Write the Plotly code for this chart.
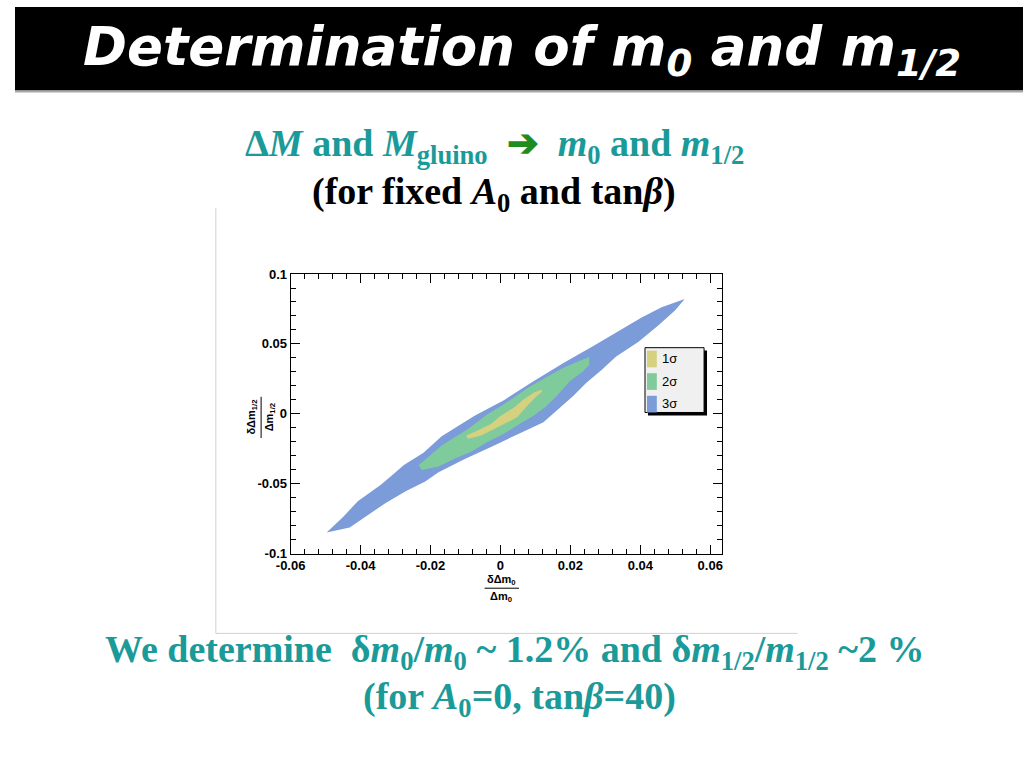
import plotly.graph_objects as go

# ---------------- data ----------------
x_tick_vals = [-0.06, -0.04, -0.02, 0.0, 0.02, 0.04, 0.06]
x_tick_labels = ["-0.06", "-0.04", "-0.02", "0", "0.02", "0.04", "0.06"]
y_tick_vals = [-0.1, -0.05, 0.0, 0.05, 0.1]
y_tick_labels = ["-0.1", "-0.05", "0", "0.05", "0.1"]

# 3 sigma region (blue) : upper and lower boundary
sigma3_upper_x = [-0.0497, -0.0450, -0.0408, -0.0342, -0.0314, -0.0276, -0.0220, -0.0168,
                  -0.0074, 0.0010, 0.0090, 0.0179, 0.0268, 0.0405, 0.0461, 0.0527]
sigma3_upper_y = [-0.0852, -0.0741, -0.0628, -0.0510, -0.0451, -0.0369, -0.0280, -0.0162,
                  -0.0015, 0.0096, 0.0225, 0.0360, 0.0488, 0.0691, 0.0762, 0.0821]
sigma3_lower_x = [-0.0431, -0.0384, -0.0328, -0.0271, -0.0215, -0.0177, -0.0102, -0.0027,
                  0.0039, 0.0123, 0.0170, 0.0208, 0.0245, 0.0290, 0.0330, 0.0395, 0.0452, 0.0499]
sigma3_lower_y = [-0.0816, -0.0734, -0.0640, -0.0557, -0.0486, -0.0420, -0.0325, -0.0240,
                  -0.0160, -0.0062, 0.0040, 0.0126, 0.0220, 0.0314, 0.0408, 0.0514, 0.0633, 0.0739]

# 2 sigma region (green)
sigma2_upper_x = [-0.0234, -0.0168, -0.0093, -0.0037, 0.0010, 0.0085, 0.0179, 0.0254]
sigma2_upper_y = [-0.0370, -0.0228, -0.0110, -0.0004, 0.0067, 0.0196, 0.0327, 0.0408]
sigma2_lower_x = [-0.0225, -0.0177, -0.0130, -0.0084, -0.0037, 0.0010, 0.0048, 0.0095,
                  0.0132, 0.0161, 0.0198, 0.0236, 0.0254]
sigma2_lower_y = [-0.0404, -0.0380, -0.0322, -0.0274, -0.0204, -0.0145, -0.0086, -0.0016,
                  0.0055, 0.0126, 0.0232, 0.0302, 0.0350]

# 1 sigma region (yellow)
sigma1_upper_x = [-0.0098, -0.0065, -0.0027, 0.0001, 0.0039, 0.0067, 0.0095, 0.0118]
sigma1_upper_y = [-0.0157, -0.0122, -0.0074, -0.0016, 0.0044, 0.0102, 0.0150, 0.0173]
sigma1_lower_x = [-0.0093, -0.0055, -0.0018, 0.0020, 0.0048, 0.0076, 0.0104, 0.0118]
sigma1_lower_y = [-0.0180, -0.0157, -0.0110, -0.0062, -0.0027, 0.0055, 0.0126, 0.0154]

region_names = ["3σ", "2σ", "1σ"]
region_colors = ["#7b9bd9", "#7fcb9c", "#d6d17f"]

# ---------------- figure ----------------
W, H = 1024, 768


def px(x):
    return x / W


def py(y):
    return 1 - y / H


fig = go.Figure()
regions = [
    (sigma3_upper_x, sigma3_upper_y, sigma3_lower_x, sigma3_lower_y),
    (sigma2_upper_x, sigma2_upper_y, sigma2_lower_x, sigma2_lower_y),
    (sigma1_upper_x, sigma1_upper_y, sigma1_lower_x, sigma1_lower_y),
]
for (ux, uy, lx, ly), name, col in zip(regions, region_names, region_colors):
    fig.add_trace(go.Scatter(
        x=list(ux) + list(lx)[::-1], y=list(uy) + list(ly)[::-1],
        mode="lines", fill="toself", fillcolor=col,
        line=dict(width=0, color=col), name=name, showlegend=False,
        hoverinfo="skip",
    ))

tickfont = dict(family="Liberation Sans, Arial", size=13, color="black", weight="bold")
fig.update_xaxes(
    domain=[px(280), px(718)], range=[-0.06, 0.0633],
    tickvals=x_tick_vals, ticktext=x_tick_labels, tickfont=tickfont,
    ticks="inside", ticklen=9, tickwidth=1, tickcolor="black",
    showline=True, linecolor="black", linewidth=1, mirror="allticks",
    showgrid=False, zeroline=False,
    minor=dict(dtick=0.004, tick0=-0.06, ticks="inside", ticklen=5, tickcolor="black", showgrid=False),
    anchor="y",
)
fig.update_yaxes(
    domain=[py(557), py(272)], range=[-0.1005, 0.1],
    tickvals=y_tick_vals, ticktext=y_tick_labels, tickfont=tickfont,
    ticks="inside", ticklen=9, tickwidth=1, tickcolor="black",
    showline=True, linecolor="black", linewidth=1, mirror="allticks",
    showgrid=False, zeroline=False,
    minor=dict(dtick=0.01, tick0=-0.1, ticks="inside", ticklen=5, tickcolor="black", showgrid=False),
    anchor="x",
)

shapes = []
annotations = []

# black title bar
shapes.append(dict(type="rect", xref="paper", yref="paper", x0=0, x1=1, y0=py(85), y1=1,
                   fillcolor="black", line=dict(width=0), layer="below"))
shapes.append(dict(type="line", xref="paper", yref="paper", x0=0, x1=1, y0=py(86), y1=py(86),
                   line=dict(color="#a8a8a8", width=2)))
annotations.append(dict(
    text="<b><i>Determination of m<sub>0</sub> and m<sub>1/2</sub></i></b>",
    x=px(515), y=py(44), xref="paper", yref="paper", showarrow=False,
    font=dict(family="DejaVu Sans", size=53, color="white"),
    xanchor="center", yanchor="middle"))

teal = "#1b9a9a"
green = "#1f8c1f"
annotations.append(dict(
    text=("<b>Δ<i>M</i> and <i>M</i><sub>gluino</sub>  "
          "<span style='color:%s'>➔</span>  <i>m</i><sub>0</sub> and <i>m</i><sub>1/2</sub></b>") % green,
    x=px(487), y=py(142), xref="paper", yref="paper", showarrow=False,
    font=dict(family="Liberation Serif", size=38, color=teal), xanchor="center", yanchor="middle"))
annotations.append(dict(
    text="<b>(for fixed <i>A</i><sub>0</sub> and tan<i>β</i>)</b>",
    x=px(487), y=py(190), xref="paper", yref="paper", showarrow=False,
    font=dict(family="Liberation Serif", size=38, color="black"), xanchor="center", yanchor="middle"))

# image frame lines of the embedded picture
shapes.append(dict(type="line", xref="paper", yref="paper", x0=px(204), x1=px(204), y0=py(205), y1=py(638),
                   line=dict(color="#d0d0d0", width=1)))
shapes.append(dict(type="line", xref="paper", yref="paper", x0=px(204), x1=px(795), y0=py(638), y1=py(638),
                   line=dict(color="#d0d0d0", width=1)))

# axis titles (fractions)
axfont = dict(family="Liberation Sans, Arial", size=11, color="black", weight="bold")
annotations.append(dict(text="δΔm<sub>0</sub>", x=px(494), y=py(584), xref="paper", yref="paper",
                        showarrow=False, font=axfont, xanchor="center", yanchor="middle"))
shapes.append(dict(type="line", xref="paper", yref="paper", x0=px(477), x1=px(512), y0=py(592), y1=py(592),
                   line=dict(color="black", width=1)))
annotations.append(dict(text="Δm<sub>0</sub>", x=px(494), y=py(601), xref="paper", yref="paper",
                        showarrow=False, font=axfont, xanchor="center", yanchor="middle"))

annotations.append(dict(text="δΔm<sub>1/2</sub>", x=px(241), y=py(418), xref="paper", yref="paper",
                        showarrow=False, font=axfont, xanchor="center", yanchor="middle", textangle=-90))
shapes.append(dict(type="line", xref="paper", yref="paper", x0=px(250), x1=px(250), y0=py(397), y1=py(439),
                   line=dict(color="black", width=1)))
annotations.append(dict(text="Δm<sub>1/2</sub>", x=px(259), y=py(418), xref="paper", yref="paper",
                        showarrow=False, font=axfont, xanchor="center", yanchor="middle", textangle=-90))

# legend box (ROOT style with shadow)
shapes.append(dict(type="rect", xref="paper", yref="paper", x0=px(643), x1=px(703), y0=py(416), y1=py(350),
                   fillcolor="black", line=dict(width=0)))
shapes.append(dict(type="rect", xref="paper", yref="paper", x0=px(640), x1=px(700), y0=py(413), y1=py(347),
                   fillcolor="#f0f0f0", line=dict(color="black", width=1)))
legfont = dict(family="Liberation Sans, Arial", size=13, color="black")
for i, (name, col) in enumerate(zip(region_names[::-1], region_colors[::-1])):
    yc = 358 + 23 * i
    shapes.append(dict(type="rect", xref="paper", yref="paper", x0=px(642), x1=px(652),
                       y0=py(yc + 9), y1=py(yc - 8), fillcolor=col, line=dict(width=0)))
    annotations.append(dict(text=name, x=px(655), y=py(yc), xref="paper", yref="paper",
                            showarrow=False, font=legfont, xanchor="left", yanchor="middle"))

# bottom conclusions
annotations.append(dict(
    text=("<b>We determine  δ<i>m</i><sub>0</sub>/<i>m</i><sub>0</sub> ~ 1.2% and "
          "δ<i>m</i><sub>1/2</sub>/<i>m</i><sub>1/2</sub> ~2 %</b>"),
    x=px(508), y=py(657), xref="paper", yref="paper", showarrow=False,
    font=dict(family="Liberation Serif", size=38, color=teal), xanchor="center", yanchor="middle"))
annotations.append(dict(
    text="<b>(for <i>A</i><sub>0</sub>=0, tan<i>β</i>=40)</b>",
    x=px(513), y=py(705), xref="paper", yref="paper", showarrow=False,
    font=dict(family="Liberation Serif", size=38, color=teal), xanchor="center", yanchor="middle"))

fig.update_layout(
    width=W, height=H, margin=dict(l=0, r=0, t=0, b=0),
    paper_bgcolor="white", plot_bgcolor="white",
    shapes=shapes, annotations=annotations, showlegend=False,
)

fig.write_html(
    "out.html",
    config={"displayModeBar": False, "staticPlot": True},
    post_script=("document.body.style.margin='0';document.body.style.padding='0';"
                 "document.documentElement.style.overflow='hidden';"
                 "var g=document.getElementById('{plot_id}');"
                 "g.style.position='fixed';g.style.left='0px';g.style.top='0px';"),
)
